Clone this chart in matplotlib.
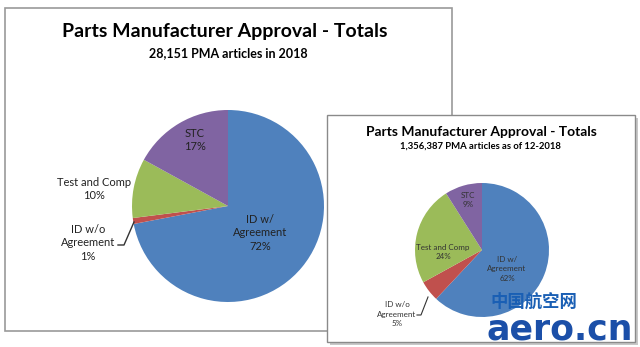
import matplotlib
matplotlib.use('Agg')
import matplotlib.pyplot as plt
from matplotlib.patches import Rectangle
from matplotlib.lines import Line2D

plt.rcParams['font.family'] = ['Lato', 'DejaVu Sans']

# data
cats = ['ID w/\nAgreement', 'ID w/o\nAgreement', 'Test and Comp', 'STC']
vals_2018 = [72, 1, 10, 17]
vals_total = [62, 5, 24, 9]
colors = ['#4F81BD', '#C0504D', '#9BBB59', '#8064A2']
title = 'Parts Manufacturer Approval - Totals'
sub_2018 = '28,151 PMA articles in 2018'
sub_total = '1,356,387 PMA articles as of 12-2018'

W, H = 640, 347
fig = plt.figure(figsize=(W / 100, H / 100), dpi=100)
fig.patch.set_facecolor('white')

def fx(x): return x / W
def fy(y): return 1 - y / H

def rect(x0, y0, x1, y1, **kw):
    r = Rectangle((fx(x0), fy(y1)), fx(x1) - fx(x0), fy(y0) - fy(y1),
                  transform=fig.transFigure, **kw)
    fig.add_artist(r)

def pie_ax(cx, cy, r, vals):
    ax = fig.add_axes([fx(cx - r), fy(cy + r), 2 * r / W, 2 * r / H])
    ax.pie(vals, colors=colors, startangle=90, counterclock=False, radius=1,
           wedgeprops=dict(linewidth=0))
    # pie resets limits to +-1.25, so fix them afterwards
    ax.set_xlim(-1, 1); ax.set_ylim(-1, 1); ax.axis('off')
    ax.patch.set_alpha(0)
    return ax

# left panel frame
rect(5, 8, 452, 331, facecolor='white', edgecolor='#9a9a9a', lw=1.2, zorder=-3)
# inset panel with shadow
rect(330, 118, 638, 345, facecolor='#c8c8c8', edgecolor='none', zorder=-2)
rect(327, 115, 635, 342, facecolor='white', edgecolor='#8a8a8a', lw=1.0, zorder=-1)

# left pie
ax1 = pie_ax(228, 206, 96, vals_2018)
fig.text(fx(225), fy(31), title, ha='center', va='center', fontsize=14, fontweight='bold')
fig.text(fx(228), fy(53), sub_2018, ha='center', va='center', fontsize=9, fontweight='bold')
lab = dict(ha='center', va='center', fontsize=8, color='#222222', linespacing=1.3)
fig.text(fx(260), fy(233), f'{cats[0]}\n{vals_2018[0]}%', **lab)
fig.text(fx(88), fy(243), f'{cats[1]}\n{vals_2018[1]}%', **lab)
fig.text(fx(94), fy(189), f'{cats[2]}\n{vals_2018[2]}%', **lab)
fig.text(fx(195), fy(140), f'{cats[3]}\n{vals_2018[3]}%', **lab)
fig.add_artist(Line2D([fx(118), fx(124), fx(134)], [fy(245), fy(245), fy(222)],
                      transform=fig.transFigure, color='#333333', lw=1))

# right pie
ax2 = pie_ax(482, 250, 67, vals_total)
fig.text(fx(481), fy(132), title, ha='center', va='center', fontsize=10, fontweight='bold')
fig.text(fx(480), fy(146), sub_total, ha='center', va='center', fontsize=6.8, fontweight='bold')
lab2 = dict(ha='center', va='center', fontsize=5.8, color='#333333', linespacing=1.4)
fig.text(fx(507), fy(269), f'{cats[0]}\n{vals_total[0]}%', **lab2)
fig.text(fx(397), fy(314), f'{cats[1]}\n{vals_total[1]}%', **lab2)
fig.text(fx(443), fy(252), f'{cats[2]}\n{vals_total[2]}%', **lab2)
fig.text(fx(468), fy(200), f'{cats[3]}\n{vals_total[3]}%', **lab2)
fig.add_artist(Line2D([fx(417), fx(421), fx(428)], [fy(315), fy(315), fy(297)],
                      transform=fig.transFigure, color='#333333', lw=0.8))

# watermark
fig.text(fx(534), fy(302), '中国航空网', ha='center', va='center', fontsize=12.5,
         fontweight='bold', color='#1a5fb4', family=['Noto Sans CJK SC', 'DejaVu Sans'])
fig.text(fx(560), fy(329), 'aero.cn', ha='center', va='center', fontsize=25,
         fontweight='bold', color='#1b4fa8', family=['DejaVu Sans'])

fig.savefig('out.png', dpi=100)
